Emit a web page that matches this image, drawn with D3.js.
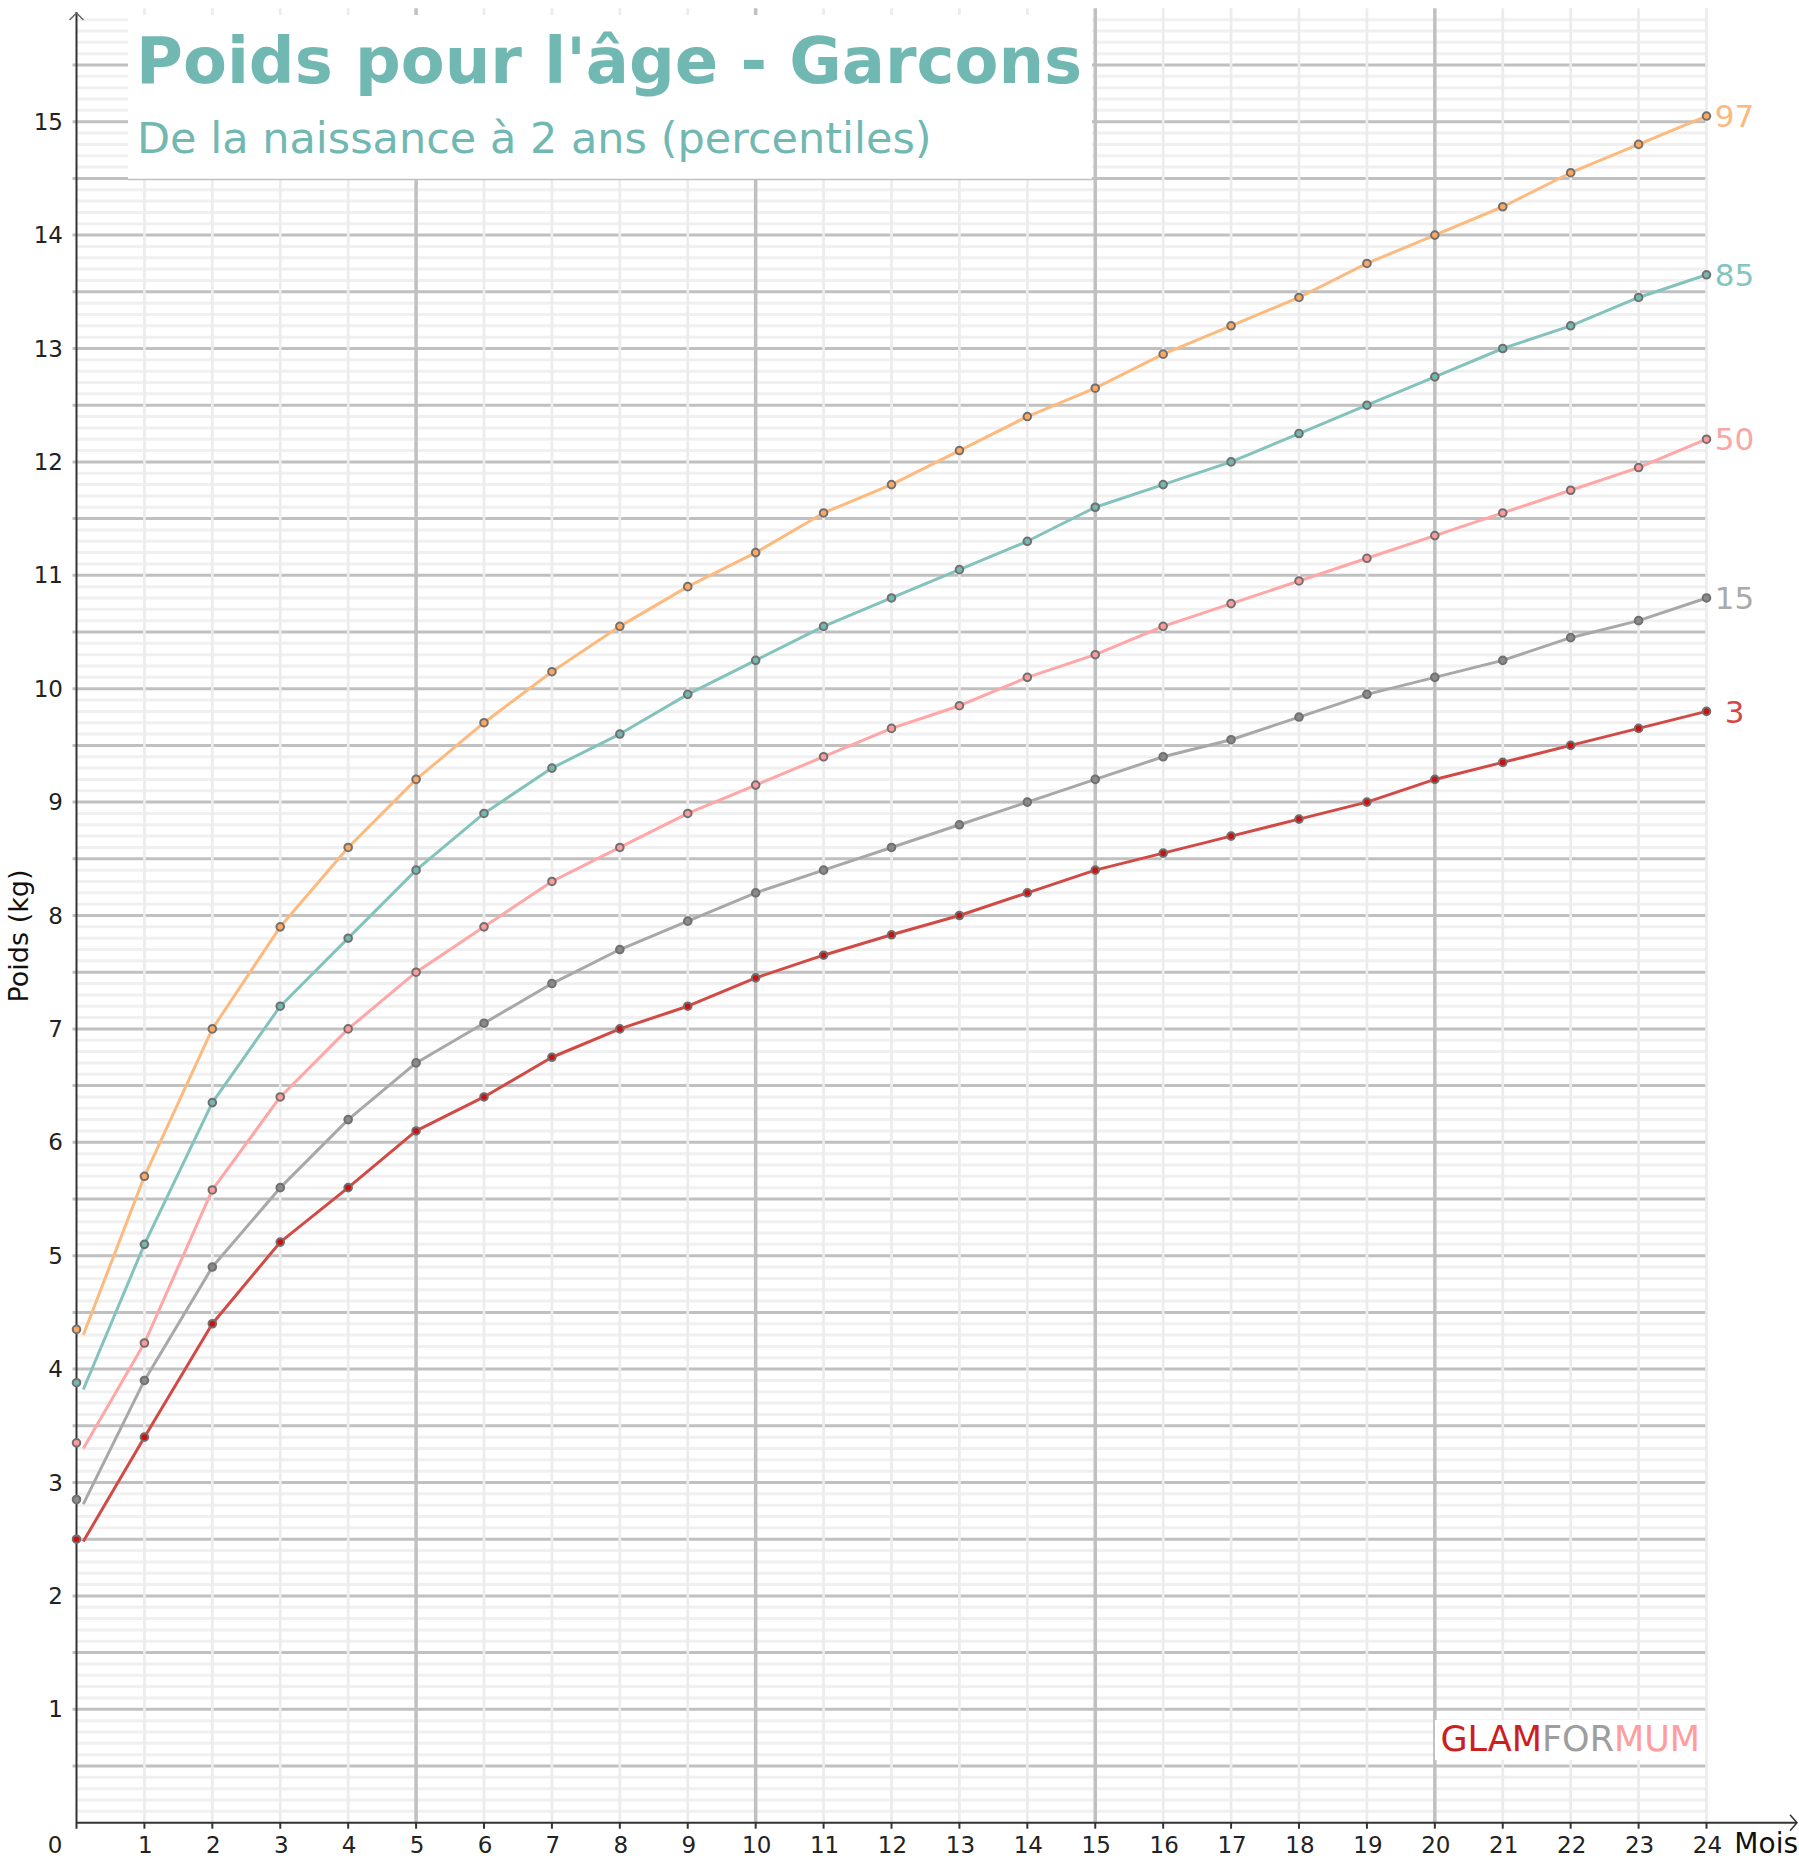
<!DOCTYPE html>
<meta charset="utf-8">
<style>
body { margin: 0; background: #fff; }
text { font-family: "DejaVu Sans", Verdana, sans-serif; }
.grid-minor { stroke: #f0f0f0; stroke-width: 3px; }
.grid-major { stroke: #c0c0c0; stroke-width: 3px; }
.vgrid-minor { stroke: #ececec; stroke-width: 2.7px; }
.vgrid-major { stroke: #c0c0c0; stroke-width: 3.5px; }
.axis-line { stroke: #333; stroke-width: 2px; fill: none; }
.tick-label { font-size: 23px; fill: #222; }
</style>
<svg width="1799" height="1869"></svg>
<script src="https://d3js.org/d3.v7.min.js"></script>
<script>

// months 0..24
var months = d3.range(0, 25);
var percentiles = ["3", "15", "50", "85", "97"];
var p3  = [2.5, 3.4, 4.4, 5.12, 5.6, 6.1, 6.4, 6.75, 7.0, 7.2, 7.45, 7.65, 7.83, 8.0, 8.2, 8.4, 8.55, 8.7, 8.85, 9.0, 9.2, 9.35, 9.5, 9.65, 9.8];
var p15 = [2.85, 3.9, 4.9, 5.6, 6.2, 6.7, 7.05, 7.4, 7.7, 7.95, 8.2, 8.4, 8.6, 8.8, 9.0, 9.2, 9.4, 9.55, 9.75, 9.95, 10.1, 10.25, 10.45, 10.6, 10.8];
var p50 = [3.35, 4.23, 5.58, 6.4, 7.0, 7.5, 7.9, 8.3, 8.6, 8.9, 9.15, 9.4, 9.65, 9.85, 10.1, 10.3, 10.55, 10.75, 10.95, 11.15, 11.35, 11.55, 11.75, 11.95, 12.2];
var p85 = [3.88, 5.1, 6.35, 7.2, 7.8, 8.4, 8.9, 9.3, 9.6, 9.95, 10.25, 10.55, 10.8, 11.05, 11.3, 11.6, 11.8, 12.0, 12.25, 12.5, 12.75, 13.0, 13.2, 13.45, 13.65];
var p97 = [4.35, 5.7, 7.0, 7.9, 8.6, 9.2, 9.7, 10.15, 10.55, 10.9, 11.2, 11.55, 11.8, 12.1, 12.4, 12.65, 12.95, 13.2, 13.45, 13.75, 14.0, 14.25, 14.55, 14.8, 15.05];
// the curves themselves start a little after birth
var lineStartMonth = 0.1;
var lineStart = [2.48, 2.81, 3.3, 3.82, 4.3];

var yTicks = d3.range(1, 16);
var xTicks = d3.range(1, 25);

var lineColors   = ["#d24a45", "#a8a8a8", "#ffa6a6", "#84c3bd", "#fdba7e"];
var markerColors = ["#cc1010", "#8a8a8a", "#ff9a9a", "#74b6b0", "#fca860"];
var labelColors  = ["#d24a45", "#aaaaaa", "#f9a6a6", "#84c5bf", "#fdb97d"];

var svg = d3.select("svg");
var x = d3.scaleLinear().domain([0, 24]).range([76.5, 1706.5]);
var y = d3.scaleLinear().domain([0, 16]).range([1822.7, 8.3]);

var series = [p3, p15, p50, p85, p97].map(function(vals, i) {
  return { name: percentiles[i], values: vals, start: lineStart[i] };
});

// horizontal grid every 0.1 kg
var hg = svg.append("g");
var hvals = d3.range(1, 160).map(function(d) { return d / 10; });
hg.selectAll("line.grid-minor")
  .data(hvals.filter(function(d, i) { return (i + 1) % 5 !== 0; }))
  .enter().append("line")
    .attr("class", "grid-minor")
    .attr("x1", x(0)).attr("x2", x(24))
    .attr("y1", function(d) { return y(d); })
    .attr("y2", function(d) { return y(d); });

// vertical minor grid
svg.append("g").selectAll("line")
  .data(xTicks.filter(function(d) { return d % 5 !== 0; }))
  .enter().append("line")
    .attr("class", "vgrid-minor")
    .attr("x1", function(d) { return x(d); })
    .attr("x2", function(d) { return x(d); })
    .attr("y1", y(16)).attr("y2", y(0));

hg.selectAll("line.grid-major")
  .data(hvals.filter(function(d, i) { return (i + 1) % 5 === 0; }))
  .enter().append("line")
    .attr("class", "grid-major")
    .attr("x1", x(0) - 4).attr("x2", x(24))
    .attr("y1", function(d) { return y(d); })
    .attr("y2", function(d) { return y(d); });

svg.append("g").selectAll("line")
  .data(xTicks.filter(function(d) { return d % 5 === 0; }))
  .enter().append("line")
    .attr("class", "vgrid-major")
    .attr("x1", function(d) { return x(d); })
    .attr("x2", function(d) { return x(d); })
    .attr("y1", y(16)).attr("y2", y(0));

// title box
svg.append("rect")
    .attr("x", 128).attr("y", 15)
    .attr("width", 964).attr("height", 164)
    .attr("fill", "#fff");
svg.append("line")
    .attr("x1", 128).attr("x2", 1092)
    .attr("y1", 179.5).attr("y2", 179.5)
    .attr("stroke", "#c0c0c0").attr("stroke-width", 1.5);
svg.append("text")
    .attr("x", 136).attr("y", 83)
    .attr("font-size", 64).attr("font-weight", "bold")
    .attr("fill", "#72b8b2")
    .text("Poids pour l'âge - Garcons");
svg.append("text")
    .attr("x", 137).attr("y", 153)
    .attr("font-size", 43).attr("fill", "#72b8b2")
    .text("De la naissance à 2 ans (percentiles)");

// watermark
var wm = svg.append("g");
wm.append("rect")
    .attr("x", 1435).attr("y", 1720).attr("width", 270).attr("height", 40)
    .attr("fill", "#fff");
var wmText = wm.append("text")
    .attr("x", 1700).attr("y", 1751)
    .attr("text-anchor", "end")
    .attr("font-size", 35);
wmText.append("tspan").attr("fill", "#cc2020").text("GLAM");
wmText.append("tspan").attr("fill", "#9e9e9e").text("FOR");
wmText.append("tspan").attr("fill", "#ff9c9c").text("MUM");

// axes
svg.append("line").attr("class", "axis-line")
    .attr("x1", x(0)).attr("x2", x(0))
    .attr("y1", 12).attr("y2", y(0) + 6);
svg.append("line").attr("class", "axis-line")
    .attr("x1", x(0)).attr("x2", 1797)
    .attr("y1", y(0)).attr("y2", y(0));
svg.append("path")
    .attr("d", "M" + (x(0) - 7) + ",20L" + x(0) + ",13L" + (x(0) + 7) + ",20")
    .attr("fill", "none").attr("stroke", "#666").attr("stroke-width", 1.5);
svg.append("path")
    .attr("d", "M1790," + (y(0) - 8) + "L1797," + y(0) + "L1790," + (y(0) + 8))
    .attr("fill", "none").attr("stroke", "#333").attr("stroke-width", 1.5);

svg.append("g").selectAll("line")
  .data(xTicks)
  .enter().append("line")
    .attr("x1", function(d) { return x(d); })
    .attr("x2", function(d) { return x(d); })
    .attr("y1", y(0)).attr("y2", y(0) + 6)
    .attr("stroke", "#333").attr("stroke-width", 2);

svg.append("g").selectAll("text")
  .data(xTicks)
  .enter().append("text")
    .attr("class", "tick-label")
    .attr("x", function(d) { return x(d) + 1; })
    .attr("y", 1853)
    .attr("text-anchor", "middle")
    .text(function(d) { return d; });

svg.append("g").selectAll("text")
  .data(yTicks)
  .enter().append("text")
    .attr("class", "tick-label")
    .attr("x", 63)
    .attr("y", function(d) { return y(d) + 8; })
    .attr("text-anchor", "end")
    .text(function(d) { return d; });

svg.append("text").attr("class", "tick-label")
    .attr("x", 55).attr("y", 1853).attr("text-anchor", "middle").text("0");

svg.append("text")
    .attr("x", 1798).attr("y", 1853)
    .attr("text-anchor", "end")
    .attr("font-size", 28).attr("fill", "#111")
    .text("Mois");

svg.append("text")
    .attr("transform", "translate(28," + 936 + ") rotate(-90)")
    .attr("text-anchor", "middle")
    .attr("font-size", 27).attr("fill", "#111")
    .text("Poids (kg)");

// curves
var line = d3.line()
    .x(function(d) { return x(d[0]); })
    .y(function(d) { return y(d[1]); });

series.forEach(function(s, i) {
  var pts = [[lineStartMonth, s.start]].concat(
    s.values.slice(1).map(function(v, j) { return [months[j + 1], v]; }));
  svg.append("path")
      .attr("d", line(pts))
      .attr("fill", "none")
      .attr("stroke", lineColors[i])
      .attr("stroke-width", 3)
      .attr("stroke-linejoin", "round");
});

series.forEach(function(s, i) {
  svg.append("g").selectAll("circle")
    .data(s.values)
    .enter().append("circle")
      .attr("cx", function(d, j) { return x(months[j]); })
      .attr("cy", function(d) { return y(d); })
      .attr("r", 3.8)
      .attr("fill", markerColors[i])
      .attr("stroke", "#707070")
      .attr("stroke-width", 2);
  // percentile name, centred just right of the last point
  svg.append("text")
      .attr("x", x(24) + 28)
      .attr("y", y(s.values[24]))
      .attr("dy", "0.36em")
      .attr("text-anchor", "middle")
      .attr("font-size", 31)
      .attr("fill", labelColors[i])
      .text(s.name);
});

</script>
